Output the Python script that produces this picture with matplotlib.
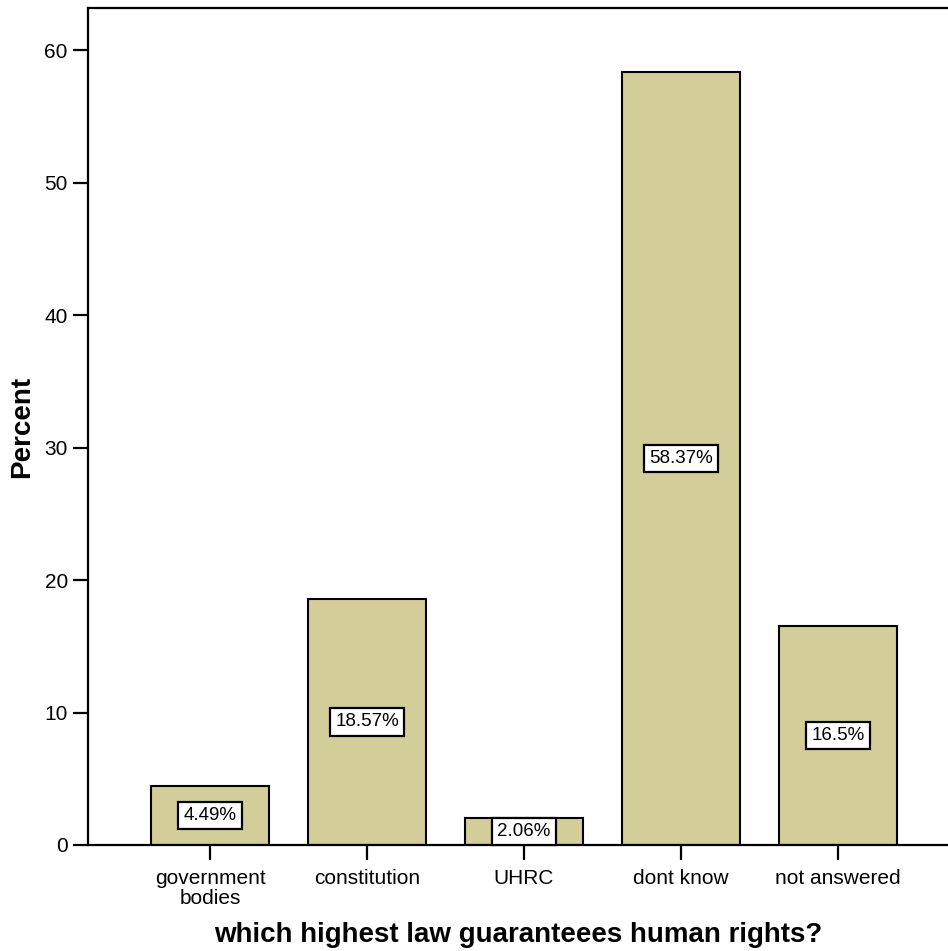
import matplotlib.pyplot as plt

# survey answers (percent)
categories = ['government\nbodies', 'constitution', 'UHRC', 'dont know', 'not answered']
percents = [4.49, 18.57, 2.06, 58.37, 16.5]
labels = ['4.49%', '18.57%', '2.06%', '58.37%', '16.5%']
yticks = [0, 10, 20, 30, 40, 50, 60]

plt.rcParams['font.family'] = ['Liberation Sans', 'DejaVu Sans']

fig = plt.figure(figsize=(9.48, 9.51), dpi=100)
ax = fig.add_axes([88 / 948, 1 - 845 / 951, 1 - 88 / 948, (845 - 8) / 951])

x = list(range(len(categories)))
ax.bar(x, percents, width=0.75, color='#d3ce99', edgecolor='black', linewidth=1.5, zorder=2)

# value boxes in the middle of each bar
for xi, v, lab in zip(x, percents, labels):
    ax.text(xi, v / 2, lab, ha='center', va='center', fontsize=13.5,
            bbox=dict(boxstyle='square,pad=0.28', facecolor='white', edgecolor='black', linewidth=1.6),
            zorder=3)

ax.set_xlim(-0.777, 4.70)
ax.set_ylim(0, 63.17)
ax.set_xticks(x)
ax.set_xticklabels(categories, fontsize=15, linespacing=1.1)
ax.set_yticks(yticks)
ax.set_yticklabels([str(t) for t in yticks], fontsize=15)

for s in ['left', 'top', 'bottom']:
    ax.spines[s].set_linewidth(1.6)
ax.spines['right'].set_visible(False)
ax.tick_params(axis='both', direction='out', length=11, width=1.6)
ax.tick_params(axis='x', pad=6)
ax.tick_params(axis='y', pad=3.5)

ax.set_ylabel('Percent', fontsize=20, fontweight='bold')
ax.set_xlabel('which highest law guaranteees human rights?', fontsize=20, fontweight='bold')
ax.yaxis.label.set_va('center')
ax.xaxis.label.set_va('center')
ax.yaxis.set_label_coords(-0.0767, 0.5)
ax.xaxis.set_label_coords(0.5, -0.107)

fig.savefig('out.png', dpi=100)
